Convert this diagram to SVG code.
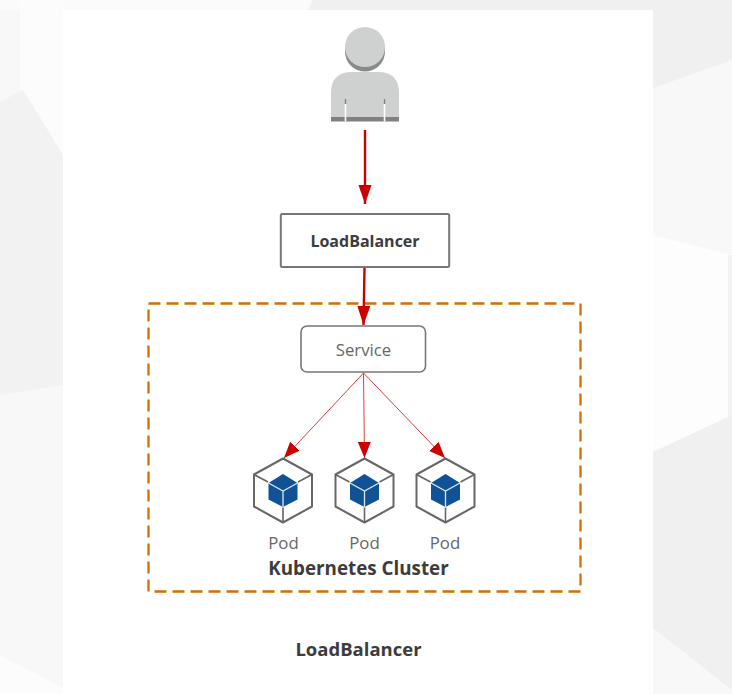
<svg xmlns="http://www.w3.org/2000/svg" width="732" height="694" viewBox="0 0 732 694">
<style>
.t{font-family:"Open Sans","Noto Sans","Liberation Sans",sans-serif;text-anchor:middle}
.b{font-weight:700;fill:#3c3c3c}
.r{fill:#666;font-size:16.800px}
.box{fill:#fff;stroke:#777}
.hex{fill:#fff;stroke:#666;stroke-width:2;stroke-linejoin:round}
.spoke{stroke:#666;stroke-width:1.600;fill:none}
.arrow{stroke:#cc0000;fill:none}
.thin{stroke:#e03c3c;stroke-width:1;fill:none}
</style>
<defs>
<marker id="ah" markerUnits="userSpaceOnUse" markerWidth="18" markerHeight="14" refX="16" refY="6.500" orient="auto"><path d="M0 0L16 6.500L0 13Z" fill="#cc0000"/></marker>
<marker id="al" markerUnits="userSpaceOnUse" markerWidth="20" markerHeight="14" refX="19" refY="6.500" orient="auto"><path d="M0 0L19 6.500L0 13Z" fill="#cc0000"/></marker>
<g id="podicon">
<path class="hex" d="M0 -32L29 -16V16L0 32L-29 16V-16Z"/>
<path class="spoke" d="M-29 -16L-15 -8.500M29 -16L15 -8.500M0 32V17"/>
<path d="M0 -16.500L14.500 -7.500V9L0 16.500L-14.500 9V-7.500Z" fill="#0f5296"/>
<path d="M-14.500 -7.500L0 0.500L14.500 -7.500M0 0.500V16.500" fill="none" stroke="#dfe8f2" stroke-width="1.300"/>
</g>
</defs>
<rect width="732" height="694" fill="#f8f8f8"/>
<path d="M250 0H313L308 10H0V0Z" fill="#fbfbfb"/>
<path d="M313 0H732V60L653 88V10H308Z" fill="#f0f0f0"/>
<path d="M20 0H63V155L23 90L20 91Z" fill="#fcfcfc"/>
<path d="M0 102L23 90L63 155V385L0 395Z" fill="#f2f2f2"/>
<path d="M0 655L63 688V694H0Z" fill="#fcfcfc"/>
<path d="M653 235L732 255V420L653 452Z" fill="#fdfdfd"/>
<path d="M728 255H732V415L728 417Z" fill="#f2f2f2"/>
<path d="M653 452L732 415V690L653 628Z" fill="#f0f0f0"/>
<rect x="63" y="10" width="590" height="684" fill="#fff"/>
<g id="user">
<circle cx="365" cy="51.500" r="20" fill="#8a8a8a"/>
<circle cx="365" cy="47" r="20" fill="#cfd1d0"/>
<path d="M331 117V93Q331 72 352 72H378Q399 72 399 93V117Z" fill="#cfd1d0"/>
<rect x="331" y="117" width="68" height="4.500" fill="#808080"/>
<path d="M345.500 99V121.500M384.500 99V121.500" stroke="#fff" stroke-width="1.600"/>
<path d="M345.500 99V104M384.500 99V104" stroke="#808080" stroke-width="1.600"/>
</g>
<g id="loadbalancer">
<rect class="box" x="280.800" y="214" width="168.400" height="53" rx="1.500" stroke-width="2"/>
<text class="t b" font-size="16" x="365" y="246.500">LoadBalancer</text>
</g>
<rect id="cluster" x="148.500" y="303.500" width="432" height="288" fill="none" stroke="#d26f06" stroke-width="2.300" stroke-dasharray="12 6"/>
<g id="service">
<rect class="box" x="301" y="326" width="124.500" height="46" rx="6" stroke-width="1.600"/>
<text class="t r" x="363.500" y="355.500">Service</text>
</g>
<g id="connectors">
<path class="arrow" stroke-width="2.400" d="M365 130V204" marker-end="url(#al)"/>
<path class="arrow" stroke-width="2.400" d="M364.500 268L363.500 325" marker-end="url(#al)"/>
<path class="thin" d="M363.500 373L284 458" marker-end="url(#ah)"/>
<path class="thin" d="M363.500 373L364.500 458" marker-end="url(#ah)"/>
<path class="thin" d="M363.500 373L445 458" marker-end="url(#ah)"/>
</g>
<g id="pod1"><use href="#podicon" x="283" y="490.500"/><text class="t r" x="283.500" y="549">Pod</text></g>
<g id="pod2"><use href="#podicon" x="364.500" y="490.500"/><text class="t r" x="364.500" y="549">Pod</text></g>
<g id="pod3"><use href="#podicon" x="445.500" y="490.500"/><text class="t r" x="445" y="549">Pod</text></g>
<text class="t b" font-size="18.800" x="358.500" y="575">Kubernetes Cluster</text>
<text class="t b" font-size="18.500" x="358.500" y="655.500">LoadBalancer</text>
</svg>
